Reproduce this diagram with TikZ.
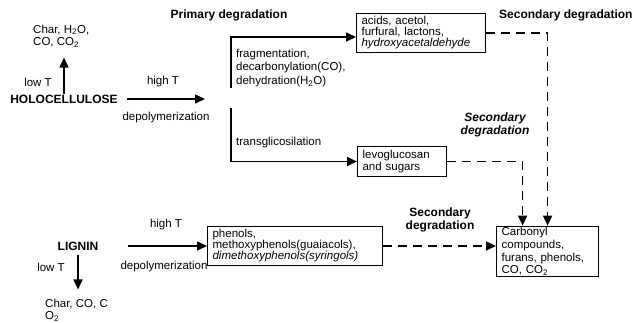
\documentclass[tikz,border=0pt]{standalone}
\usepackage{fontspec}
\setmainfont{Liberation Sans}
\usepackage{tikz}
\usetikzlibrary{arrows.meta, positioning, calc}
\newcommand{\smallfont}{\fontsize{11.5}{12.5}\selectfont}
\newcommand{\boxfont}{\fontsize{11.5}{11}\selectfont}
\newcommand{\headfont}{\fontsize{12}{13}\selectfont\bfseries}
\tikzstyle{box} = [draw, line width=1.2pt, align=left, inner xsep=5pt, inner ysep=3pt, font=\boxfont]
\tikzstyle{txt} = [inner sep=1pt, align=left, font=\smallfont]
\tikzstyle{head} = [inner sep=1pt, align=center, font=\headfont]
\tikzstyle{arrow} = [line width=1.6pt, -{Triangle[length=10pt, width=9pt]}]
\tikzstyle{dasharrow} = [line width=1.6pt, dash pattern=on 9pt off 6pt, -{Triangle[length=10pt, width=9pt]}]

\begin{document}
\begin{tikzpicture}[x=1pt, y=-1pt]
            \useasboundingbox (0,0) rectangle (634,322);
            % headings
            \node[head] (prim) at (229,15) {Primary degradation};
            \node[head, anchor=west] (sec1) at (498,15) {Secondary degradation};
            \node[head, font=\headfont\itshape] (sec2) at (495,125) {Secondary\\degradation};
            \node[head] (sec3) at (440,220) {Secondary\\degradation};
            % holocellulose
            \node[head] (holo) at (64,99) {HOLOCELLULOSE};
            \node[txt, anchor=west] (char1) at (32,36) {Char, H\textsubscript{2}O,\\CO, CO\textsubscript{2}};
            \node[txt] (lowT1) at (38,82) {low T};
            \node[txt] (highT1) at (163,82) {high T};
            \node[txt] (depol1) at (166,118) {depolymerization};
            \coordinate (hend) at (205,99);
            \coordinate (bu) at (231,88);
            \coordinate (bl) at (231,108);
            \node[txt, anchor=west] (frag) at (235,68) {fragmentation,\\[1pt]decarbonylation(CO),\\[1pt]dehydration(H\textsubscript{2}O)};
            \node[txt, anchor=west] (trans) at (235,143) {transglicosilation};
            \node[box, anchor=west, text width=119pt] (acids) at (356,33) {acids, acetol,\\furfural, lactons,\\\textit{hydroxyacetaldehyde}};
            \node[box, anchor=west, text width=79pt, font=\smallfont] (levo) at (357,161.5) {levoglucosan\\and sugars};
            \node[box, anchor=west, text width=92pt, inner ysep=1pt, font=\smallfont] (carb) at (496,251.5) {Carbonyl\\[0.3pt]compounds,\\[0.3pt]furans, phenols,\\[0.3pt]CO, CO\textsubscript{2}};
            % lignin
            \node[head] (lignin) at (78,246) {LIGNIN};
            \node[txt] (lowT2) at (51,267) {low T};
            \node[txt] (highT2) at (166,225) {high T};
            \node[txt] (depol2) at (164,267) {depolymerization};
            \node[txt, anchor=west] (char2) at (44,310) {Char, CO, C\\O\textsubscript{2}};
            \node[box, anchor=west, text width=165pt] (phen) at (207,246) {phenols,\\methoxyphenols(guaiacols),\\\textit{dimethoxyphenols(syringols)}};
            % connectors
            \draw[arrow, shorten >=9pt] (holo.north) -- (holo.north |- char1.south);
            \draw[arrow, shorten <=8pt] (holo.east) -- (hend);
            \draw[arrow] (bu) |- ([yshift=-4pt]acids.west);
            \draw[arrow] (bl) |- (levo.west);
            \draw[dasharrow] (acids.east) -| (carb.north);
            \draw[dasharrow] (levo.east) -| ([xshift=-25pt]carb.north);
            \draw[arrow, shorten <=28pt] (lignin.east) -- (phen.west);
            \draw[dasharrow] (phen.east) -- (phen.east -| carb.west);
            \draw[arrow, shorten <=4pt, shorten >=8pt] (lignin.south) -- (lignin.south |- char2.north);
        \end{tikzpicture}
\end{document}
